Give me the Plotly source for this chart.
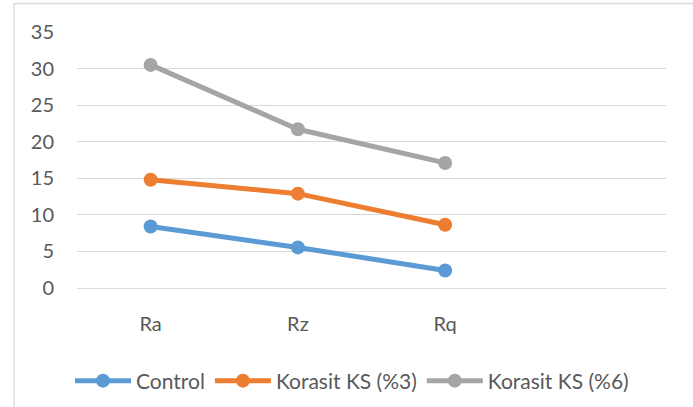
import plotly.graph_objects as go

categories = ["Ra", "Rz", "Rq"]
control = [8.4, 5.55, 2.4]
korasit_3 = [14.8, 12.9, 8.65]
korasit_6 = [30.5, 21.7, 17.1]
y_ticks = [0, 5, 10, 15, 20, 25, 30, 35]

series = [
    ("Control", control, "#5B9BD5"),
    ("Korasit KS (%3)", korasit_3, "#ED7D31"),
    ("Korasit KS (%6)", korasit_6, "#A5A5A5"),
]

fig = go.Figure()
for name, vals, color in series:
    fig.add_trace(go.Scatter(
        x=categories, y=vals, name=name, mode="lines+markers",
        line=dict(color=color, width=5),
        marker=dict(color=color, size=14),
    ))

W, H = 693, 407
L, R, T, B = 77, 27, 32, 119
pw = W - L - R
ph = H - T - B

fig.update_layout(
    width=W, height=H,
    margin=dict(l=L, r=R, t=T, b=B, pad=0, autoexpand=False),
    paper_bgcolor="white", plot_bgcolor="white",
    font=dict(family="Lato", size=20, color="#595959"),
    showlegend=True,
    legend=dict(
        orientation="h", x=(352 - L) / pw, xanchor="center",
        y=(T + ph - 381) / ph, yanchor="middle",
        font=dict(size=21, color="#595959"),
        itemwidth=56, tracegroupgap=0, bgcolor="rgba(0,0,0,0)",
    ),
    xaxis=dict(
        type="category", categoryorder="array", categoryarray=categories,
        range=[-0.5, 3.5], showgrid=False, showline=False, zeroline=False,
        ticks="", ticklabelstandoff=22, tickfont=dict(size=20, color="#595959"),
        fixedrange=True,
    ),
    yaxis=dict(
        range=[0, 35], tickvals=y_ticks, showgrid=True, gridcolor="#D9D9D9",
        gridwidth=1.3, zeroline=True, zerolinecolor="#D9D9D9", zerolinewidth=1.3,
        showline=False, ticks="", ticklabelstandoff=22,
        tickfont=dict(size=20, color="#595959"), fixedrange=True,
    ),
    shapes=[
        dict(type="line", xref="paper", yref="paper",
             x0=(14 - L) / pw, x1=(W + 5 - L) / pw,
             y0=(T + ph - 3.5) / ph, y1=(T + ph - 3.5) / ph,
             line=dict(color="#D9D9D9", width=1.3)),
        dict(type="line", xref="paper", yref="paper",
             x0=(14 - L) / pw, x1=(14 - L) / pw,
             y0=(T + ph - 3.5) / ph, y1=(T + ph - H - 5) / ph,
             line=dict(color="#D9D9D9", width=1.3)),
    ],
)

fig.write_html(
    "out.html",
    config={"displayModeBar": False},
    post_script="document.body.style.margin='0';document.body.style.overflow='hidden';",
)
